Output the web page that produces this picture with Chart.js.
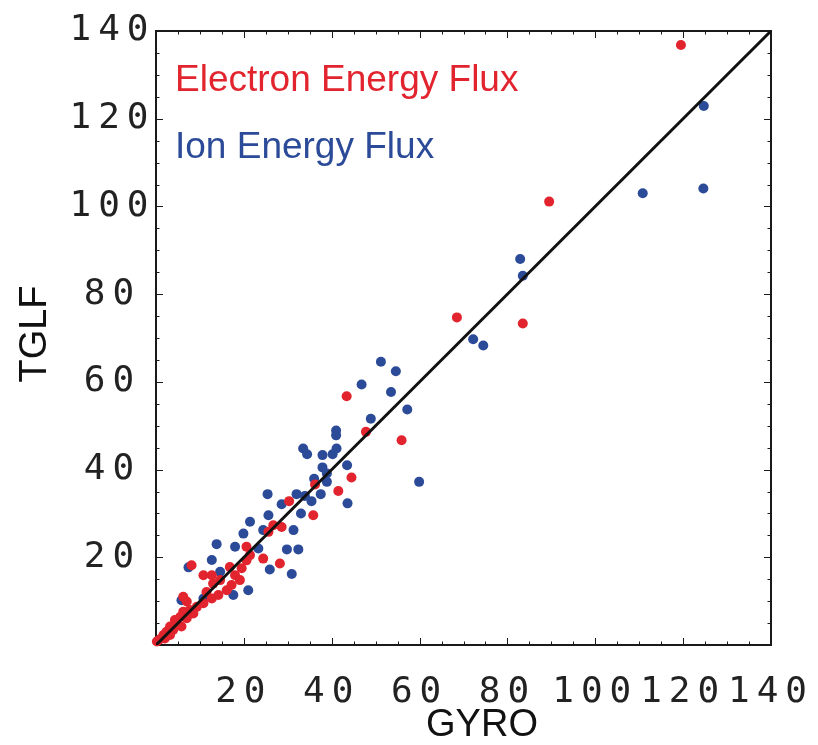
<!DOCTYPE html>
<html>
<head>
<meta charset="utf-8">
<script src="https://cdn.jsdelivr.net/npm/chart.js@4/dist/chart.umd.min.js"></script>
<style>
  html, body { margin: 0; padding: 0; background: #ffffff; }
  #wrap { width: 818px; height: 745px; position: relative; }
</style>
</head>
<body>
<div id="wrap"><canvas id="c" width="818" height="745"></canvas></div>
<script>
// ---- data ----
const xTitle = 'GYRO';
const yTitle = 'TGLF';
const seriesNames = ['Electron Energy Flux', 'Ion Energy Flux'];
const tickValues = [20, 40, 60, 80, 100, 120, 140];

const electronX = [119.5, 89.5, 68.5, 83.5, 43.4, 47.8, 55.9, 44.5, 36.2, 41.5,
  30.3, 35.8, 26.7, 28.6, 25.6, 20.6, 24.4, 21.4, 20.6, 8.1,
  16.8, 19.5, 28.2, 10.8, 12.7, 18.0, 19.1, 14.6, 13.0, 16.1,
  17.2, 11.5, 14.2, 6.2, 12.7, 10.8, 7.0, 9.3, 7.7, 6.2,
  8.5, 5.5, 7.0, 4.3, 4.7, 3.2, 5.8, 2.4, 3.9, 1.7,
  3.2, 0.9, 2.0, 0.2];
const electronY = [136.8, 101.1, 74.7, 73.3, 56.7, 48.6, 46.7, 38.2, 36.6, 35.1,
  32.8, 29.6, 27.3, 26.9, 25.8, 22.4, 19.7, 20.5, 19.3, 18.2,
  17.8, 17.5, 18.6, 15.9, 15.9, 15.9, 14.8, 14.8, 14.0, 12.5,
  13.7, 12.1, 11.4, 11.0, 10.6, 9.5, 9.9, 8.7, 8.0, 7.6,
  7.2, 6.4, 6.1, 5.7, 4.6, 4.2, 4.2, 3.0, 3.4, 2.3,
  2.3, 1.3, 1.5, 0.8];

const ionX = [124.7, 110.8, 124.6, 82.9, 83.5, 72.2, 74.5, 51.2, 54.6, 46.8,
  53.5, 57.2, 48.9, 41.0, 41.0, 41.1, 33.5, 34.4, 37.9, 40.2,
  43.5, 37.9, 38.9, 36.0, 59.9, 38.9, 37.5, 25.4, 32.0, 33.9,
  35.4, 28.6, 43.6, 33.0, 25.6, 21.4, 31.3, 24.4, 19.9, 13.8,
  18.0, 23.3, 29.8, 32.4, 12.7, 7.4, 25.9, 14.6, 30.9, 21.0,
  17.6, 10.8, 5.8];
const ionY = [122.9, 103.0, 104.1, 88.0, 84.2, 69.7, 68.3, 64.6, 62.4, 59.4,
  57.7, 53.7, 51.6, 48.9, 47.8, 44.8, 44.8, 43.5, 43.3, 43.5,
  41.0, 40.5, 39.1, 37.9, 37.2, 37.2, 34.4, 34.4, 34.4, 34.0,
  32.8, 32.1, 32.3, 30.0, 29.6, 28.1, 26.2, 26.2, 25.4, 23.0,
  22.4, 22.0, 21.8, 21.8, 19.4, 17.7, 17.2, 16.7, 16.2, 12.5,
  11.4, 10.6, 10.2];

const lineX = [0, 140];
const lineY = [0, 140];

// ---- styles ----
const RED = '#e2242e';
const BLUE = '#2b4a98';
const TICK_FONT = { family: "'DejaVu Sans Mono', monospace", size: 36 };
const TITLE_FONT = "38px 'Liberation Sans', Arial, sans-serif";
const LEGEND_FONT = "37px 'Liberation Sans', Arial, sans-serif";

const toPts = (xs, ys) => xs.map((x, i) => ({ x: x, y: ys[i] }));

const framePlugin = {
  id: 'frameAndText',
  beforeDatasetsDraw(chart) {
    const { ctx, chartArea: a, scales } = chart;
    ctx.save();
    ctx.strokeStyle = '#1a1a1a';
    ctx.lineWidth = 1;
    for (let v = 5; v < 140; v += 5) {
      const major = v % 20 === 0;
      const len = major ? 7 : 3.5;
      const px = Math.round(scales.x.getPixelForValue(v)) + 0.5;
      const py = Math.round(scales.y.getPixelForValue(v)) + 0.5;
      ctx.beginPath();
      ctx.moveTo(px, a.bottom); ctx.lineTo(px, a.bottom - len);
      ctx.moveTo(px, a.top); ctx.lineTo(px, a.top + len);
      ctx.moveTo(a.left, py); ctx.lineTo(a.left + len, py);
      ctx.moveTo(a.right, py); ctx.lineTo(a.right - len, py);
      ctx.stroke();
    }
    ctx.lineWidth = 2;
    ctx.strokeRect(a.left, a.top, a.right - a.left, a.bottom - a.top);
    ctx.restore();
  },
  afterDatasetsDraw(chart) {
    chart.ctx.letterSpacing = '7px';
  },
  afterDraw(chart) {
    const { ctx, chartArea: a } = chart;
    ctx.letterSpacing = '0px';
    ctx.save();
    ctx.font = LEGEND_FONT;
    ctx.textAlign = 'left';
    ctx.textBaseline = 'alphabetic';
    const ds = chart.data.datasets;
    ctx.fillStyle = ds[1].backgroundColor;
    ctx.fillText(ds[1].label, a.left + 19, a.top + 60);
    ctx.fillStyle = ds[2].backgroundColor;
    ctx.fillText(ds[2].label, a.left + 19, a.top + 127);
    ctx.fillStyle = '#111';
    ctx.font = TITLE_FONT;
    ctx.textAlign = 'center';
    ctx.textBaseline = 'middle';
    ctx.fillText(xTitle, 482, 726);
    ctx.translate(36, 334);
    ctx.rotate(-Math.PI / 2);
    ctx.fillText(yTitle, 0, 0);
    ctx.restore();
  }
};

const tickCb = (v) => (tickValues.includes(v) ? String(v) : '');

new Chart(document.getElementById('c'), {
  type: 'scatter',
  data: {
    datasets: [
      {
        type: 'line', label: 'y = x', data: toPts(lineX, lineY),
        borderColor: '#111', borderWidth: 3, pointRadius: 0, fill: false, order: 0
      },
      {
        label: seriesNames[0], data: toPts(electronX, electronY),
        backgroundColor: RED, borderColor: RED, borderWidth: 0,
        pointRadius: 5, clip: false, order: 1
      },
      {
        label: seriesNames[1], data: toPts(ionX, ionY),
        backgroundColor: BLUE, borderColor: BLUE, borderWidth: 0,
        pointRadius: 5, clip: false, order: 2
      }
    ]
  },
  options: {
    responsive: false,
    animation: false,
    devicePixelRatio: 1,
    layout: { padding: { top: 31, right: 47, left: 0, bottom: 0 } },
    plugins: { legend: { display: false }, tooltip: { enabled: false } },
    scales: {
      x: {
        type: 'linear', min: 0, max: 140,
        grid: { display: false },
        border: { display: false },
        ticks: { stepSize: 20, callback: tickCb, font: TICK_FONT, color: '#222', padding: 18, z: 1, maxRotation: 0, autoSkip: false },
        afterFit(s) { s.height = 100; s.paddingLeft = 0; s.paddingRight = 0; }
      },
      y: {
        type: 'linear', min: 0, max: 140,
        grid: { display: false },
        border: { display: false },
        ticks: { stepSize: 20, callback: tickCb, font: TICK_FONT, color: '#222', padding: 3, crossAlign: 'center', z: 1, autoSkip: false },
        afterFit(s) { s.width = 156; s.paddingTop = 0; s.paddingBottom = 0; }
      }
    }
  },
  plugins: [framePlugin]
});
</script>
</body>
</html>
